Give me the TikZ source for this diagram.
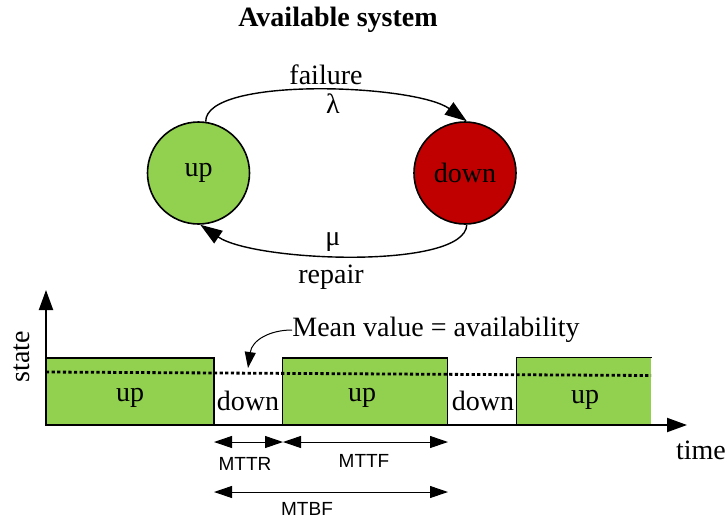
\documentclass[tikz,border=0pt]{standalone}
\usepackage{fontspec}
\setmainfont{Liberation Serif}
\setsansfont{Liberation Sans}
\usetikzlibrary{arrows.meta}

\definecolor{upgreen}{HTML}{92D050}
\definecolor{downred}{HTML}{C00000}

\begin{document}
\begin{tikzpicture}[x=0.5pt,y=-0.5pt,
  stnode/.style={circle,draw,line width=0.8pt,minimum size=51pt,inner sep=0pt,
    font=\fontsize{14}{16}\selectfont},
  lbl/.style={font=\fontsize{14}{16}\selectfont,inner sep=0pt},
  tag/.style={font=\sffamily\fontsize{9.5}{11}\selectfont,inner sep=0pt},
  trans/.style={line width=0.7pt,-{Triangle[length=11pt,width=7.5pt]}},
  span/.style={line width=0.5pt,{Triangle[length=9pt,width=6pt]}-{Triangle[length=9pt,width=6pt]}},
  upbox/.style={draw,fill=upgreen,line width=0.7pt,inner sep=0pt,minimum height=33.5pt},
  axis/.style={line width=1pt,-{Triangle[length=10pt,width=7pt]}}
]
\useasboundingbox (0,0) rectangle (727,520);

% ---- state diagram ----
\node[font=\bfseries\fontsize{14}{16}\selectfont] (title) at (338,20) {Available system};
\node[stnode,fill=upgreen] (up) at (198.5,173) {up};
\node[stnode,fill=downred] (down) at (465,173) {down};

\draw[trans] (up.82) .. controls (205,76) and (415,84) .. (down.88);
\draw[trans] (down.-88) .. controls (465,270) and (255,262) .. (up.-88);

\node[lbl] (fail) at (326,75) {failure};
\node[lbl] (lam) at (333,104) {λ};
\node[lbl] (mu) at (333,242) {μ};
\node[lbl] (rep) at (331,277) {repair};

% ---- time line ----
\node[upbox,minimum width=84pt] (b1) at (130,391.5) {};
\node[upbox,minimum width=82.5pt] (b2) at (365,391.5) {};
\node[upbox,draw=none,minimum width=67pt] (b3) at (584,391.5) {};
\draw[line width=0.7pt] (b3.south west) -- (b3.north west) -- (b3.north east);

\node[lbl] (u1) at (130,398) {up};
\node[lbl] (u2) at (362,398) {up};
\node[lbl] (u3) at (585,400) {up};
\node[lbl] (d1) at (248,401) {down};
\node[lbl] (d2) at (483,401) {down};

\coordinate (o) at (46,425);
\coordinate (ytop) at (46,290);
\coordinate (xend) at (687,425);
\draw[axis] (o) -- (ytop);
\draw[axis] (o) -- (xend);

\node[lbl,rotate=90] (st) at (22,357) {state};
\node[lbl] (tm) at (701,450) {time};

% mean value line
\coordinate (m1) at (46,372);
\coordinate (m2) at (651,375.5);
\draw[line width=1.4pt,dash pattern=on 1.6pt off 1.2pt] (m1) -- (m2);

\node[lbl,anchor=west] (mean) at (292,330) {Mean value = availability};
\coordinate (mtip) at (248,368);
\draw[line width=0.5pt,-{Triangle[length=8pt,width=5.5pt]}]
  (mean.west) .. controls (270,330) and (252,340) .. (mtip);

% interval arrows
\coordinate (r1) at (214,442);
\coordinate (r2) at (283,442);
\coordinate (r3) at (448,442);
\coordinate (q1) at (214,492);
\coordinate (q2) at (448,492);
\draw[span] (r1) -- (r2);
\draw[span] (r2) -- (r3);
\draw[span] (q1) -- (q2);
\node[tag] (mttr) at (245,464) {MTTR};
\node[tag] (mttf) at (364,461) {MTTF};
\node[tag] (mtbf) at (307,509) {MTBF};
\end{tikzpicture}
\end{document}
